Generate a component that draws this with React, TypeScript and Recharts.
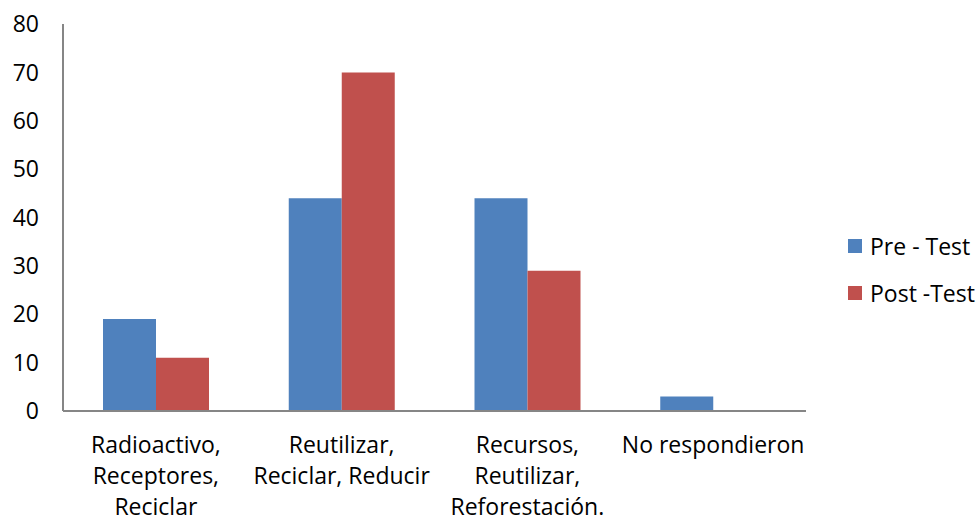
import React from "react";
import { BarChart, Bar, XAxis, YAxis, Legend } from "recharts";

const categories = [
  "Radioactivo,\nReceptores,\nReciclar",
  "Reutilizar,\nReciclar, Reducir",
  "Recursos,\nReutilizar,\nReforestación.",
  "No respondieron",
];
const preTest = [19, 44, 44, 3];
const postTest = [11, 70, 29, 0];
const yTicks = [0, 10, 20, 30, 40, 50, 60, 70, 80];
const seriesNames = ["Pre - Test", "Post -Test"];
const colors = ["#4F81BD", "#C0504D"];

const data = categories.map((c, i) => ({ name: c, pre: preTest[i], post: postTest[i] }));

const FONT = "'Open Sans', sans-serif";
const FS = 23;

const XTick = (props: any) => {
  const { x, y, payload } = props;
  const lines = String(payload.value).split("\n");
  return (
    <text x={x} y={y} textAnchor="middle" fill="#000" fontSize={FS} fontFamily={FONT}>
      {lines.map((l: string, i: number) => (
        <tspan key={i} x={x} dy={i === 0 ? 34 : 31}>
          {l}
        </tspan>
      ))}
    </text>
  );
};

const LegendContent = () => (
  <div style={{ fontFamily: FONT, fontSize: FS, color: "#000" }}>
    {seriesNames.map((n, i) => (
      <div key={n} style={{ display: "flex", alignItems: "center", height: 47 }}>
        <div style={{ width: 14, height: 14, background: colors[i], marginRight: 8 }} />
        <span>{n}</span>
      </div>
    ))}
  </div>
);

export default function App() {
  return (
    <div style={{ position: "absolute", left: 0, top: 0, background: "#fff" }}>
      <BarChart
        width={979}
        height={522}
        data={data}
        margin={{ top: 24, right: 173, bottom: 0, left: 0 }}
        barGap={0}
        barSize={53}
      >
        <XAxis
          dataKey="name"
          tick={<XTick />}
          tickLine={false}
          axisLine={{ stroke: "#868686", strokeWidth: 2 }}
          interval={0}
          height={111}
        />
        <YAxis
          domain={[0, 80]}
          ticks={yTicks}
          width={63}
          tickLine={false}
          tickSize={0}
          tickMargin={24}
          axisLine={{ stroke: "#868686", strokeWidth: 2 }}
          tick={{ fill: "#000", fontSize: FS, fontFamily: FONT }}
        />
        <Legend
          layout="vertical"
          align="center"
          verticalAlign="middle"
          content={<LegendContent />}
          wrapperStyle={{ position: "absolute", left: 848, top: 222, width: 131 }}
        />
        <Bar dataKey="pre" name={seriesNames[0]} fill={colors[0]} isAnimationActive={false} />
        <Bar dataKey="post" name={seriesNames[1]} fill={colors[1]} isAnimationActive={false} />
      </BarChart>
    </div>
  );
}
